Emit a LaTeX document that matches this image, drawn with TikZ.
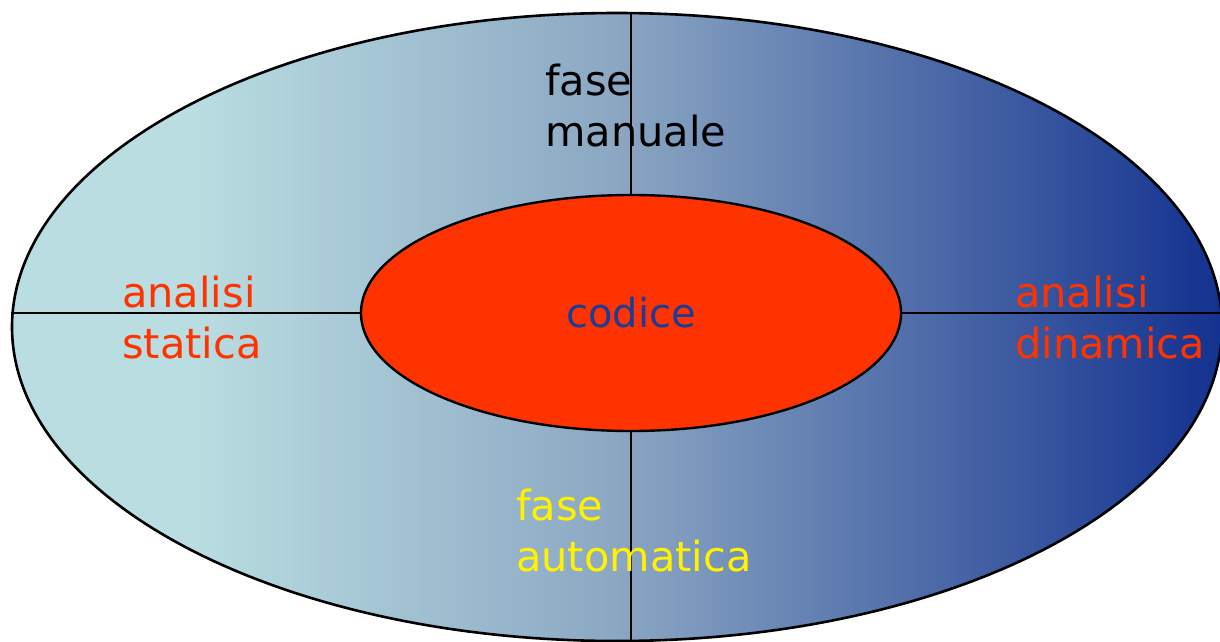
\documentclass[tikz,border=0pt]{standalone}
\usepackage{fontspec}
\setmainfont{DejaVu Sans}
\usetikzlibrary{shapes.geometric}
\definecolor{skylight}{HTML}{B9DDE1}
\definecolor{skymid}{HTML}{8BA7C3}
\definecolor{skydeep}{HTML}{13318F}
\definecolor{corered}{HTML}{FF3300}
\definecolor{coreblue}{HTML}{1B3C96}
\pgfdeclarehorizontalshading{ovalshade}{100bp}{color(0bp)=(skylight); color(32.5bp)=(skylight);
  color(50bp)=(skymid); color(75bp)=(skydeep); color(100bp)=(skydeep)}
\tikzset{
  outeroval/.style={ellipse,draw=black,line width=2.6pt,shading=ovalshade,inner sep=0pt,
    minimum width=1210pt,minimum height=628pt},
  coreoval/.style={ellipse,draw=black,line width=2.4pt,fill=corered,inner sep=0pt,
    minimum width=540pt,minimum height=236pt},
  splitline/.style={draw=black,line width=2.8pt},
  phaselabel/.style={anchor=north west,inner sep=0pt,align=left,
    font=\fontsize{41.5}{51}\selectfont}
}

\begin{document}
\begin{tikzpicture}[x=1pt,y=-1pt]
  \useasboundingbox (0,0) rectangle (1220,642);
  \node[outeroval] (outer) at (617,327) {};
  \node[coreoval] (core) at (631,313) {};
  % dividing lines
  \draw[splitline] (outer.north -| core) -- (core.north);
  \draw[splitline] (core.south) -- (outer.south -| core);
  \draw[splitline] (outer.west |- core) -- (core.west);
  \draw[splitline] (core.east) -- (outer.east |- core);
  \node[font=\fontsize{40}{48}\selectfont,text=coreblue] (codice) at (core) {codice};
  \node[phaselabel,text=black] (manual) at (545,64) {fase\\manuale};
  \node[phaselabel,text=corered] (static) at (122,276) {analisi\\statica};
  \node[phaselabel,text=corered] (dynamic) at (1015,276) {analisi\\dinamica};
  \node[phaselabel,text=yellow] (auto) at (516,489) {fase\\automatica};
\end{tikzpicture}
\end{document}
